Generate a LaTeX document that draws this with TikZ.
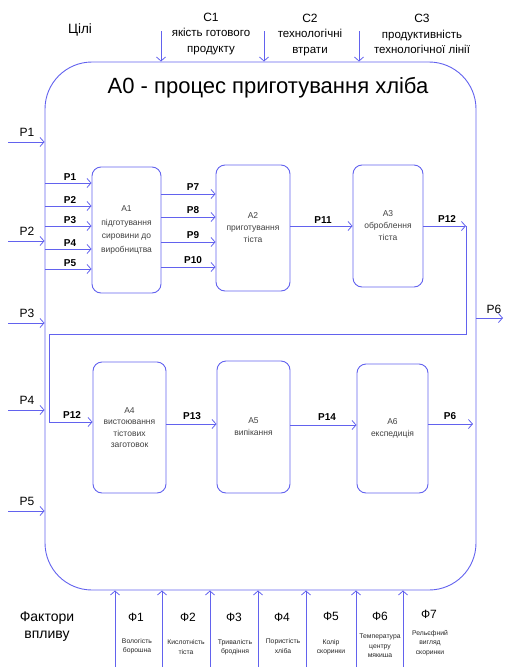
\documentclass[tikz,border=0pt]{standalone}
\usepackage{fontspec}
\setmainfont{Liberation Sans}
\usetikzlibrary{arrows.meta}
\definecolor{lncol}{RGB}{98,98,238}
\begin{document}
\begin{tikzpicture}[x=1pt,y=-1pt,
  ln/.style={draw=lncol, line width=0.9pt},
  arr/.style={ln, -{Straight Barb[length=4pt,width=9pt,line width=0.8pt]}},
  proc/.style={draw=lncol, line width=0.9pt, rounded corners=9pt, align=center,
    font=\fontsize{8.5}{13.5}\selectfont, text=black!75, inner sep=0pt},
  plab/.style={font=\bfseries\fontsize{10}{10}\selectfont, inner sep=1pt, anchor=south},
  ctl/.style={align=center, font=\fontsize{11.5}{15.5}\selectfont},
  fac/.style={font=\fontsize{12}{12}\selectfont},
  facs/.style={align=center, font=\fontsize{6.8}{9.5}\selectfont, text=black!85},
]
\useasboundingbox (0,0) rectangle (504,667);

% outer frame
\node[draw=lncol, line width=0.9pt, rounded corners=47pt, minimum width=431pt,
      minimum height=528pt, inner sep=0pt] (frame) at (260.5,326) {};
\node[font=\fontsize{22}{22}\selectfont] (title) at (268,88) {A0 - процес приготування хліба};

% top controls
\node[font=\fontsize{13.5}{13.5}\selectfont] (goals) at (80,30) {Цілі};
\node[ctl] (c1t) at (211,34) {{\fontsize{12}{12}\selectfont C1}\\якість готового\\продукту};
\node[ctl] (c2t) at (310,35) {{\fontsize{12}{12}\selectfont C2}\\технологічні\\втрати};
\node[ctl] (c3t) at (422,34) {{\fontsize{12}{12}\selectfont C3}\\продуктивність\\технологічної лінії};
\coordinate (c1) at (161,31);
\coordinate (c2) at (264,31);
\coordinate (c3) at (359,31);
\foreach \c in {c1,c2,c3} \draw[arr] (\c) -- (\c |- frame.north);

% process boxes
\node[proc, minimum width=69pt, minimum height=126pt] (A1) at (126.5,230)
  {A1\\підготування\\сировини до\\виробництва};
\node[proc, minimum width=74pt, minimum height=126pt, font=\fontsize{8.5}{12}\selectfont] (A2) at (253,228)
  {A2\\приготування\\тіста};
\node[proc, minimum width=70pt, minimum height=122pt, font=\fontsize{8.5}{12}\selectfont] (A3) at (388,226)
  {A3\\оброблення\\тіста};
\node[proc, minimum width=73pt, minimum height=131pt, font=\fontsize{8.5}{11.5}\selectfont] (A4) at (129.5,427.5)
  {A4\\вистоювання\\тістових\\заготовок};
\node[proc, minimum width=73pt, minimum height=132pt, font=\fontsize{8.5}{12}\selectfont] (A5) at (253.5,427)
  {A5\\випікання};
\node[proc, minimum width=71pt, minimum height=129pt, font=\fontsize{8.5}{12.5}\selectfont] (A6) at (392.5,428.5)
  {A6\\експедиція};

% external inputs
\foreach \n/\y in {1/142,2/241,3/323,4/410,5/511} {
  \coordinate (in\n) at (8,\y);
  \draw[arr] (in\n) -- (in\n -| frame.west);
  \node[plab, font=\fontsize{12}{12}\selectfont] (inl\n) at (27,\y-4) {P\n};
}

% inputs into A1
\foreach \n/\y in {1/183,2/206,3/226,4/249,5/269} {
  \coordinate (a\n) at (45,\y);
  \draw[arr] (a\n) -- (a\n -| A1.west);
  \node[plab] (al\n) at (70,\y-1) {P\n};
}

% A1 -> A2
\foreach \n/\y in {7/194,8/217,9/242,10/267} {
  \coordinate (b\n) at (161,\y);
  \draw[arr] (b\n -| A1.east) -- (b\n -| A2.west);
  \node[plab] (bl\n) at (193,\y-2) {P\n};
}

% A2 -> A3
\draw[arr] (A2.east |- A3.east) -- (A3.east -| A3.west);
\node[plab] (p11) at (323,225) {P11};

% A3 -> loop -> A4
\coordinate (p12a) at (466,226);
\coordinate (p12b) at (466,334);
\coordinate (p12c) at (49,334);
\coordinate (p12d) at (49,422);
\draw[arr] (A3.east) -- (p12a);
\node[plab] (p12l1) at (447,224) {P12};
\draw[ln] (p12a) -- (p12b) -- (p12c) -- (p12d);
\draw[arr] (p12d) -- (p12d -| A4.west);
\node[plab] (p12l2) at (72,420) {P12};

% A4 -> A5 -> A6 -> out
\coordinate (r13) at (166,424);
\draw[arr] (r13) -- (r13 -| A5.west);
\node[plab] (p13) at (192,421) {P13};
\coordinate (r14) at (290,425);
\draw[arr] (r14) -- (r14 -| A6.west);
\node[plab] (p14) at (327,422) {P14};
\coordinate (r6) at (473,424);
\draw[arr] (r6 -| A6.east) -- (r6);
\node[plab] (p6i) at (450,421) {P6};

% external output
\coordinate (out6) at (503,318);
\draw[arr] (out6 -| frame.east) -- (out6);
\node[plab, font=\fontsize{12}{12}\selectfont] (p6o) at (494,315) {P6};

% bottom factors
\node[align=center, font=\fontsize{14}{17}\selectfont] (fact) at (47,627) {Фактори\\впливу};
\foreach \n/\x in {1/115,2/162,3/210,4/258,5/306,6/356,7/403} {
  \coordinate (f\n) at (\x,667);
  \draw[arr] (f\n) -- (f\n |- frame.south);
}
\node[fac] (F1) at (136,617) {Ф1};
\node[fac] (F2) at (188,617) {Ф2};
\node[fac] (F3) at (234,617) {Ф3};
\node[fac] (F4) at (282,617) {Ф4};
\node[fac] (F5) at (331,616) {Ф5};
\node[fac] (F6) at (380,616) {Ф6};
\node[fac] (F7) at (429,614) {Ф7};
\node[facs] (F1t) at (137,646) {Вологість\\борошна};
\node[facs] (F2t) at (186,647) {Кислотність\\тіста};
\node[facs] (F3t) at (235,647) {Тривалість\\бродіння};
\node[facs] (F4t) at (283,646) {Пористість\\хліба};
\node[facs] (F5t) at (331,647) {Колір\\скоринки};
\node[facs] (F6t) at (380,646) {Температура\\центру\\мякиша};
\node[facs] (F7t) at (430,643) {Рельєфний\\вигляд\\скоринки};
\end{tikzpicture}
\end{document}
